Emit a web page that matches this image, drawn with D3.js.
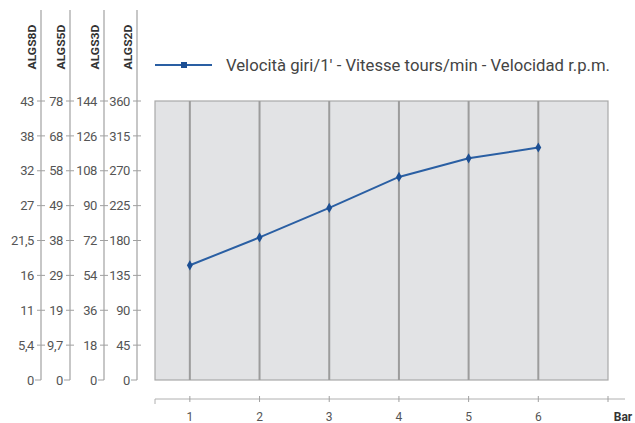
<!DOCTYPE html>
<html>
<head>
<meta charset="utf-8">
<script src="https://cdn.jsdelivr.net/npm/d3@7"></script>
<style>
  body { margin: 0; background: #fff; }
  text { font-family: "Liberation Sans Narrow", Roboto, "Liberation Sans", sans-serif; }
</style>
</head>
<body>
<div id="chart"></div>
<script>
// dati
const bars = [1, 2, 3, 4, 5, 6];
const rpm2D = [148, 184, 222, 262, 286, 300];   // valori sulla scala ALGS2D

const ticks2D = [0, 45, 90, 135, 180, 225, 270, 315, 360];
const labels3D = ["0", "18", "36", "54", "72", "90", "108", "126", "144"];
const labels5D = ["0", "9,7", "19", "29", "38", "49", "58", "68", "78"];
const labels8D = ["0", "5,4", "11", "16", "21,5", "27", "32", "38", "43"];
const xTicks = [1, 2, 3, 4, 5, 6, 7];
const legendText = "Velocità giri/1' - Vitesse tours/min - Velocidad r.p.m.";

const width = 635, height = 423;
const plot = { left: 155, right: 608, top: 101, bottom: 380 };

const svg = d3.select("#chart").append("svg")
    .attr("width", width)
    .attr("height", height);

const x = d3.scaleLinear().domain([0.5, 7]).range([plot.left, plot.right]);
const y = d3.scaleLinear().domain([0, 360]).range([plot.bottom, plot.top]);

// sfondo area del grafico
svg.append("rect")
    .attr("x", plot.left)
    .attr("y", plot.top)
    .attr("width", plot.right - plot.left)
    .attr("height", plot.bottom - plot.top)
    .attr("fill", "#e2e3e5")
    .attr("stroke", "#a9a9a9")
    .attr("stroke-width", 1.2);

// linee verticali della griglia
svg.append("g")
    .selectAll("line")
    .data(bars)
    .enter().append("line")
    .attr("x1", d => x(d))
    .attr("x2", d => x(d))
    .attr("y1", plot.top)
    .attr("y2", plot.bottom)
    .attr("stroke", "#9c9c9c")
    .attr("stroke-width", 2);

// assi a sinistra (quattro scale)
const leftAxes = [
    { x: 137, name: "ALGS2D", labels: ticks2D.map(String) },
    { x: 104, name: "ALGS3D", labels: labels3D },
    { x: 70, name: "ALGS5D", labels: labels5D },
    { x: 41, name: "ALGS8D", labels: labels8D }
];

leftAxes.forEach(a => {
    const g = svg.append("g").attr("transform", `translate(${a.x},0)`);
    g.append("line")
        .attr("x1", 0).attr("x2", 0)
        .attr("y1", 10).attr("y2", y(0))
        .attr("stroke", "#b5b5b5")
        .attr("stroke-width", 1.5);
    // trattini
    g.selectAll(".tk")
        .data(ticks2D)
        .enter().append("line")
        .attr("x1", d => d === 0 ? -6 : -4)
        .attr("x2", d => d === 0 ? 0 : 4)
        .attr("y1", d => y(d))
        .attr("y2", d => y(d))
        .attr("stroke", "#a0a0a0")
        .attr("stroke-width", 1);
    g.selectAll(".lbl")
        .data(ticks2D)
        .enter().append("text")
        .attr("x", -7)
        .attr("y", d => y(d))
        .attr("dy", "0.36em")
        .attr("text-anchor", "end")
        .attr("font-size", "13px")
        .attr("letter-spacing", "-0.4px")
        .attr("fill", "#555")
        .text((d, i) => a.labels[i]);
    g.append("text")
        .attr("transform", "translate(-9,47) rotate(-90)")
        .attr("text-anchor", "middle")
        .attr("dy", "0.36em")
        .attr("font-size", "11px")
        .attr("font-weight", "bold")
        .attr("fill", "#333")
        .attr("textLength", 45)
        .attr("lengthAdjust", "spacingAndGlyphs")
        .text(a.name);
});

// asse orizzontale (Bar)
const xAxisY = 399;
svg.append("line")
    .attr("x1", plot.left).attr("x2", 625)
    .attr("y1", xAxisY).attr("y2", xAxisY)
    .attr("stroke", "#b0b0b0")
    .attr("stroke-width", 1);
svg.append("line")
    .attr("x1", plot.left).attr("x2", plot.left)
    .attr("y1", xAxisY).attr("y2", xAxisY + 5)
    .attr("stroke", "#b0b0b0");
svg.append("g")
    .selectAll("line")
    .data(xTicks)
    .enter().append("line")
    .attr("x1", d => x(d)).attr("x2", d => x(d))
    .attr("y1", xAxisY - 3).attr("y2", xAxisY + 3)
    .attr("stroke", "#a0a0a0");
svg.append("g")
    .selectAll("text")
    .data(bars)
    .enter().append("text")
    .attr("x", d => x(d))
    .attr("y", 421)
    .attr("text-anchor", "middle")
    .attr("font-size", "12px")
    .attr("fill", "#555")
    .text(d => d);
svg.append("text")
    .attr("x", 623)
    .attr("y", 421)
    .attr("text-anchor", "middle")
    .attr("font-size", "12px")
    .attr("font-weight", "bold")
    .attr("fill", "#333")
    .text("Bar");

// linea dei dati
const lineColor = "#2a5fa3";
const line = d3.line()
    .x((d, i) => x(bars[i]))
    .y(d => y(d));

svg.append("path")
    .datum(rpm2D)
    .attr("d", line)
    .attr("fill", "none")
    .attr("stroke", lineColor)
    .attr("stroke-width", 2);

svg.append("g")
    .selectAll("path")
    .data(rpm2D)
    .enter().append("path")
    .attr("d", d3.symbol().type(d3.symbolDiamond).size(30))
    .attr("transform", (d, i) => `translate(${x(bars[i])},${y(d)})`)
    .attr("fill", "#1c4f94");

// legenda
svg.append("line")
    .attr("x1", 155).attr("x2", 212)
    .attr("y1", 65).attr("y2", 65)
    .attr("stroke", lineColor)
    .attr("stroke-width", 2);
svg.append("rect")
    .attr("x", 181).attr("y", 62)
    .attr("width", 6).attr("height", 6)
    .attr("fill", "#1c4f94");
svg.append("text")
    .attr("x", 226)
    .attr("y", 65)
    .attr("dy", "0.36em")
    .attr("font-size", "17px")
    .attr("fill", "#444")
    .attr("textLength", 384)
    .attr("lengthAdjust", "spacingAndGlyphs")
    .text(legendText);
</script>
</body>
</html>
